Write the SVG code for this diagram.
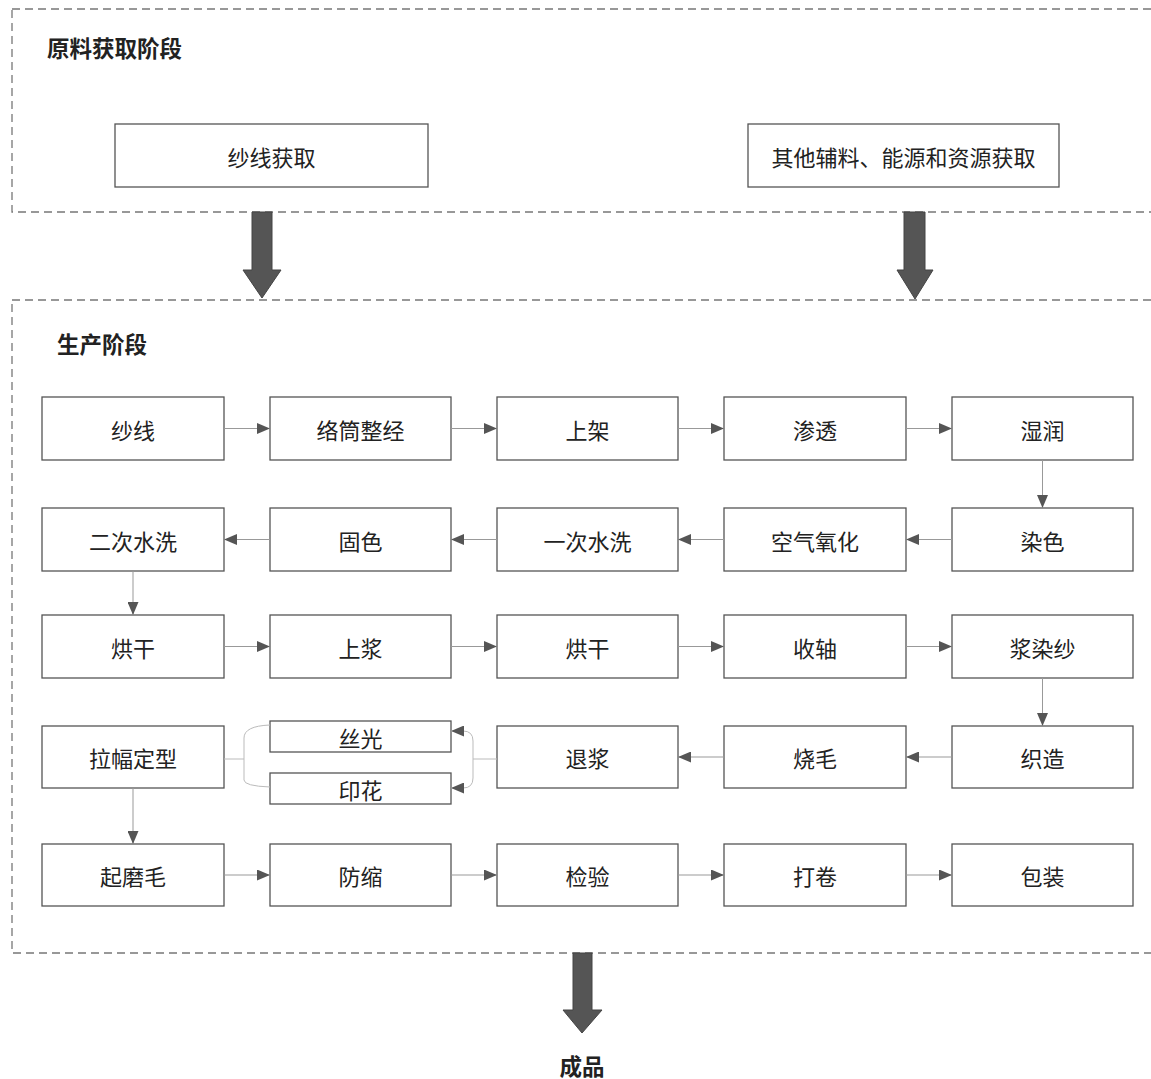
<svg xmlns="http://www.w3.org/2000/svg" width="1151" height="1079" viewBox="0 0 1151 1079">
<style>
.stage{fill:none;stroke:#777;stroke-width:1.3;stroke-dasharray:8 5}
.box{fill:#fff;stroke:#555;stroke-width:1.3}
.lbl{font-family:"Noto Sans CJK SC","Noto Sans",sans-serif;font-size:22px;fill:#222;text-anchor:middle;dominant-baseline:central}
.ttl{font-family:"Noto Sans CJK SC","Noto Sans",sans-serif;font-size:22.5px;font-weight:bold;fill:#222;dominant-baseline:central}
.ln{fill:none;stroke:#999;stroke-width:1}
.br{fill:none;stroke:#bbb;stroke-width:1}
.big{fill:#555;stroke:#444;stroke-width:1}
</style>
<defs>
<marker id="ah" viewBox="0 0 13 11" refX="13" refY="5.5" markerWidth="13" markerHeight="11" markerUnits="userSpaceOnUse" orient="auto">
<path d="M0,0 L13,5.5 L0,11 Z" fill="#555"/>
</marker>
</defs>
<rect width="1151" height="1079" fill="#fff"/>

<g id="stage-raw">
<rect class="stage" x="12" y="9" width="1160" height="203"/>
<text class="ttl" x="47" y="47">原料获取阶段</text>
</g>
<g id="stage-prod">
<rect class="stage" x="12" y="300" width="1160" height="653"/>
<text class="ttl" x="57" y="343">生产阶段</text>
</g>

<g id="n-yarn-get"><rect class="box" x="115" y="124" width="313" height="63"/><text class="lbl" x="271.5" y="156">纱线获取</text></g>
<g id="n-other-get"><rect class="box" x="748" y="124" width="311" height="63"/><text class="lbl" x="903.5" y="156">其他辅料、能源和资源获取</text></g>

<g id="n1"><rect class="box" x="42" y="397" width="182" height="63"/><text class="lbl" x="133" y="428.5">纱线</text></g>
<g id="n2"><rect class="box" x="270" y="397" width="181" height="63"/><text class="lbl" x="360.5" y="428.5">络筒整经</text></g>
<g id="n3"><rect class="box" x="497" y="397" width="181" height="63"/><text class="lbl" x="587.5" y="428.5">上架</text></g>
<g id="n4"><rect class="box" x="724" y="397" width="182" height="63"/><text class="lbl" x="815" y="428.5">渗透</text></g>
<g id="n5"><rect class="box" x="952" y="397" width="181" height="63"/><text class="lbl" x="1042.5" y="428.5">湿润</text></g>

<g id="n6"><rect class="box" x="42" y="508" width="182" height="63"/><text class="lbl" x="133" y="539.5">二次水洗</text></g>
<g id="n7"><rect class="box" x="270" y="508" width="181" height="63"/><text class="lbl" x="360.5" y="539.5">固色</text></g>
<g id="n8"><rect class="box" x="497" y="508" width="181" height="63"/><text class="lbl" x="587.5" y="539.5">一次水洗</text></g>
<g id="n9"><rect class="box" x="724" y="508" width="182" height="63"/><text class="lbl" x="815" y="539.5">空气氧化</text></g>
<g id="n10"><rect class="box" x="952" y="508" width="181" height="63"/><text class="lbl" x="1042.5" y="539.5">染色</text></g>

<g id="n11"><rect class="box" x="42" y="615" width="182" height="63"/><text class="lbl" x="133" y="646.5">烘干</text></g>
<g id="n12"><rect class="box" x="270" y="615" width="181" height="63"/><text class="lbl" x="360.5" y="646.5">上浆</text></g>
<g id="n13"><rect class="box" x="497" y="615" width="181" height="63"/><text class="lbl" x="587.5" y="646.5">烘干</text></g>
<g id="n14"><rect class="box" x="724" y="615" width="182" height="63"/><text class="lbl" x="815" y="646.5">收轴</text></g>
<g id="n15"><rect class="box" x="952" y="615" width="181" height="63"/><text class="lbl" x="1042.5" y="646.5">浆染纱</text></g>

<g id="n16"><rect class="box" x="42" y="726" width="182" height="62"/><text class="lbl" x="133" y="757">拉幅定型</text></g>
<g id="n17a"><rect class="box" x="270" y="721" width="181" height="31"/><text class="lbl" x="360.5" y="737">丝光</text></g>
<g id="n17b"><rect class="box" x="270" y="773" width="181" height="31"/><text class="lbl" x="360.5" y="789">印花</text></g>
<g id="n18"><rect class="box" x="497" y="726" width="181" height="62"/><text class="lbl" x="587.5" y="757">退浆</text></g>
<g id="n19"><rect class="box" x="724" y="726" width="182" height="62"/><text class="lbl" x="815" y="757">烧毛</text></g>
<g id="n20"><rect class="box" x="952" y="726" width="181" height="62"/><text class="lbl" x="1042.5" y="757">织造</text></g>

<g id="n21"><rect class="box" x="42" y="844" width="182" height="62"/><text class="lbl" x="133" y="875">起磨毛</text></g>
<g id="n22"><rect class="box" x="270" y="844" width="181" height="62"/><text class="lbl" x="360.5" y="875">防缩</text></g>
<g id="n23"><rect class="box" x="497" y="844" width="181" height="62"/><text class="lbl" x="587.5" y="875">检验</text></g>
<g id="n24"><rect class="box" x="724" y="844" width="182" height="62"/><text class="lbl" x="815" y="875">打卷</text></g>
<g id="n25"><rect class="box" x="952" y="844" width="181" height="62"/><text class="lbl" x="1042.5" y="875">包装</text></g>

<g id="n-product"><text class="ttl" x="582" y="1065" text-anchor="middle">成品</text></g>

<g id="connectors">
<polygon class="big" points="252,212 272,212 272,270 281,270 262,298 243,270 252,270"/>
<polygon class="big" points="904,212 925,212 925,270 933,270 915,299 897,270 904,270"/>
<polygon class="big" points="573,953 592,953 592,1010 602,1010 582,1033 563,1010 573,1010"/>

<line class="ln" x1="224" y1="428.5" x2="270" y2="428.5" marker-end="url(#ah)"/>
<line class="ln" x1="451" y1="428.5" x2="497" y2="428.5" marker-end="url(#ah)"/>
<line class="ln" x1="678" y1="428.5" x2="724" y2="428.5" marker-end="url(#ah)"/>
<line class="ln" x1="906" y1="428.5" x2="952" y2="428.5" marker-end="url(#ah)"/>
<line class="ln" x1="1042.5" y1="460" x2="1042.5" y2="508" marker-end="url(#ah)"/>

<line class="ln" x1="952" y1="539.5" x2="906" y2="539.5" marker-end="url(#ah)"/>
<line class="ln" x1="724" y1="539.5" x2="678" y2="539.5" marker-end="url(#ah)"/>
<line class="ln" x1="497" y1="539.5" x2="451" y2="539.5" marker-end="url(#ah)"/>
<line class="ln" x1="270" y1="539.5" x2="224" y2="539.5" marker-end="url(#ah)"/>
<line class="ln" x1="133" y1="571" x2="133" y2="615" marker-end="url(#ah)"/>

<line class="ln" x1="224" y1="646.5" x2="270" y2="646.5" marker-end="url(#ah)"/>
<line class="ln" x1="451" y1="646.5" x2="497" y2="646.5" marker-end="url(#ah)"/>
<line class="ln" x1="678" y1="646.5" x2="724" y2="646.5" marker-end="url(#ah)"/>
<line class="ln" x1="906" y1="646.5" x2="952" y2="646.5" marker-end="url(#ah)"/>
<line class="ln" x1="1042.5" y1="678" x2="1042.5" y2="726" marker-end="url(#ah)"/>

<line class="ln" x1="952" y1="757" x2="906" y2="757" marker-end="url(#ah)"/>
<line class="ln" x1="724" y1="757" x2="678" y2="757" marker-end="url(#ah)"/>
<line class="br" x1="497" y1="759" x2="473" y2="759"/>
<path class="br" d="M473,759 V741 Q473,731 463,731 H451" marker-end="url(#ah)"/>
<path class="br" d="M473,759 V778 Q473,788 463,788 H451" marker-end="url(#ah)"/>
<line class="br" x1="224" y1="759" x2="244" y2="759"/>
<path class="br" d="M270,725 Q244,726 244,738 V780 Q244,786 270,787"/>
<line class="ln" x1="133" y1="788" x2="133" y2="844" marker-end="url(#ah)"/>

<line class="ln" x1="224" y1="875" x2="270" y2="875" marker-end="url(#ah)"/>
<line class="ln" x1="451" y1="875" x2="497" y2="875" marker-end="url(#ah)"/>
<line class="ln" x1="678" y1="875" x2="724" y2="875" marker-end="url(#ah)"/>
<line class="ln" x1="906" y1="875" x2="952" y2="875" marker-end="url(#ah)"/>
</g>
</svg>
